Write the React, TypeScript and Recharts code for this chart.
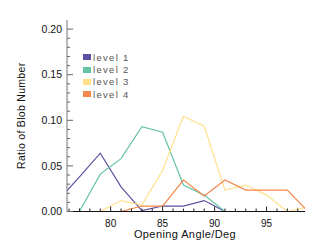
import React from 'react';
import { LineChart, Line, XAxis, YAxis, Legend } from 'recharts';

const angles = [75, 77, 79, 81, 83, 85, 87, 89, 91, 93, 95, 97, 99];
const level1 = [0.013, 0.038, 0.064, 0.027, 0.001, 0.006, 0.006, 0.012, 0, 0, 0, 0, 0];
const level2 = [0, 0, 0.041, 0.058, 0.093, 0.087, 0.029, 0.018, 0, 0, 0, 0, 0];
const level3 = [0, 0, 0, 0.012, 0.007, 0.045, 0.1045, 0.0935, 0.0235, 0.029, 0.018, 0, 0.005];
const level4 = [0, 0, 0, 0, 0.006, 0.006, 0.0345, 0.017, 0.0345, 0.0235, 0.0235, 0.0235, 0];

const seriesNames = ['level 1', 'level 2', 'level 3', 'level 4'];
const seriesKeys = ['l1', 'l2', 'l3', 'l4'];
const seriesColors = ['#5e4fa2', '#66c2a5', '#fee08b', '#f4874b'];

const xMajorTicks = [80, 85, 90, 95];
const xMinorTicks = [76, 77, 78, 79, 80, 81, 82, 83, 84, 85, 86, 87, 88, 89, 90, 91, 92, 93, 94, 95, 96, 97, 98];
const yMajorTicks = ['0.00', '0.05', '0.10', '0.15', '0.20'];
const yMinorTicks = [0, 0.01, 0.02, 0.03, 0.04, 0.05, 0.06, 0.07, 0.08, 0.09, 0.1, 0.11, 0.12, 0.13, 0.14, 0.15, 0.16, 0.17, 0.18, 0.19, 0.2];

const data = angles.map((a, i) => ({ x: a, l1: level1[i], l2: level2[i], l3: level3[i], l4: level4[i] }));

const FONT = '"Liberation Sans", Arial, Helvetica, sans-serif';

const isXMajor = (v: number) => xMajorTicks.some((t) => Math.abs(t - v) < 1e-6);
const yLabelFor = (v: number) => yMajorTicks.find((t) => Math.abs(parseFloat(t) - v) < 1e-6);

const BottomTick = (props: any) => {
  const { x, y, payload } = props;
  const major = isXMajor(payload.value);
  return (
    <g>
      <line x1={x} x2={x} y1={y} y2={y - (major ? 5 : 3)} stroke="#222" strokeWidth={1} />
      {major && (
        <text x={x} y={y + 15} textAnchor="middle" fontSize={10} fontFamily={FONT} fill="#111">
          {payload.value}
        </text>
      )}
    </g>
  );
};

const TopTick = (props: any) => {
  const { x, y, payload } = props;
  const major = isXMajor(payload.value);
  return <line x1={x} x2={x} y1={y} y2={y + (major ? 5 : 3)} stroke={major ? '#333' : '#888'} strokeWidth={1} />;
};

const LeftTick = (props: any) => {
  const { x, y, payload } = props;
  const lab = yLabelFor(payload.value);
  return (
    <g>
      <line x1={x} x2={x + (lab ? 6 : 3)} y1={y} y2={y} stroke="#666" strokeWidth={1} />
      {lab && (
        <text x={x - 5} y={y + 3.6} textAnchor="end" fontSize={10.5} fontFamily={FONT} fill="#111">
          {lab}
        </text>
      )}
    </g>
  );
};

const RightTick = (props: any) => {
  const { x, y, payload } = props;
  const lab = yLabelFor(payload.value);
  return <line x1={x} x2={x - (lab ? 6 : 3)} y1={y} y2={y} stroke="#555" strokeWidth={1} />;
};

const YTitle = (props: any) => {
  const vb = props.viewBox;
  const cx = 25;
  const cy = vb.y + vb.height / 2;
  return (
    <text x={cx} y={cy} transform={`rotate(-90 ${cx} ${cy})`} textAnchor="middle" fontSize={10.5} fontFamily={FONT} fill="#111" letterSpacing={0.3}>
      Ratio of Blob Number
    </text>
  );
};

const XTitle = (props: any) => {
  const vb = props.viewBox;
  return (
    <text x={vb.x + vb.width / 2 - 1} y={vb.y + 26.5} textAnchor="middle" fontSize={11} fontFamily={FONT} fill="#111" letterSpacing={0.4}>
      Opening Angle/Deg
    </text>
  );
};

const LegendContent = () => (
  <div style={{ fontFamily: FONT, fontSize: 9.5, color: '#555' }}>
    {seriesNames.map((n, i) => (
      <div key={n} style={{ display: 'flex', alignItems: 'center', height: 12.4 }}>
        <span style={{ display: 'inline-block', width: 8, height: 6, background: seriesColors[i], marginRight: 2.5 }} />
        <span style={{ letterSpacing: 1.3 }}>{n}</span>
      </div>
    ))}
  </div>
);

export default function App() {
  return (
    <div style={{ position: 'absolute', left: 0, top: 0, width: 332, height: 249, background: '#fff' }}>
      <LineChart width={332} height={249} data={data} margin={{ top: 20, right: 27, bottom: 0, left: 0 }}>
        <XAxis
          dataKey="x"
          type="number"
          domain={[75.8, 98.7]}
          allowDataOverflow
          ticks={xMinorTicks}
          interval={0}
          height={37.5}
          tickSize={0}
          tickMargin={0}
          tick={<BottomTick />}
          axisLine={{ stroke: '#111', strokeWidth: 1.2 }}
          tickLine={false}
          label={<XTitle />}
        />
        <XAxis
          xAxisId="top"
          orientation="top"
          dataKey="x"
          type="number"
          domain={[75.8, 98.7]}
          allowDataOverflow
          ticks={xMinorTicks}
          interval={0}
          height={0}
          tickSize={0}
          tickMargin={0}
          tick={<TopTick />}
          axisLine={false}
          tickLine={false}
        />
        <YAxis
          type="number"
          domain={[0, 0.21]}
          allowDataOverflow
          ticks={yMinorTicks}
          interval={0}
          width={67}
          tickSize={0}
          tickMargin={0}
          tick={<LeftTick />}
          axisLine={{ stroke: '#777', strokeWidth: 1 }}
          tickLine={false}
          label={<YTitle />}
        />
        <YAxis
          yAxisId="right"
          orientation="right"
          type="number"
          domain={[0, 0.21]}
          allowDataOverflow
          ticks={yMinorTicks}
          interval={0}
          width={0}
          tickSize={0}
          tickMargin={0}
          tick={<RightTick />}
          axisLine={{ stroke: '#000', strokeWidth: 1.5 }}
          tickLine={false}
        />
        <Legend
          layout="vertical"
          verticalAlign="middle"
          align="center"
          content={<LegendContent />}
          wrapperStyle={{ position: 'absolute', left: 82.5, top: 51, width: 'auto' }}
        />
        {seriesKeys.map((k, i) => (
          <Line
            key={k}
            dataKey={k}
            name={seriesNames[i]}
            stroke={seriesColors[i]}
            strokeWidth={1.2}
            dot={false}
            activeDot={false}
            isAnimationActive={false}
          />
        ))}
      </LineChart>
    </div>
  );
}
